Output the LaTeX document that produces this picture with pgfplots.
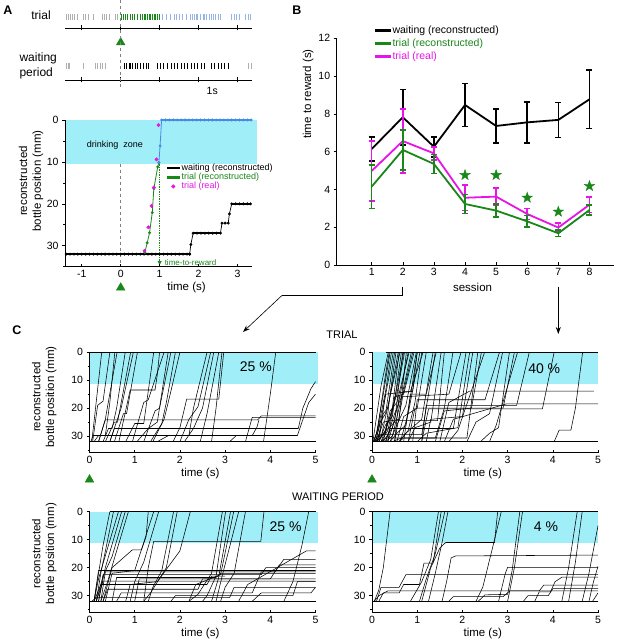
\documentclass[border=0pt]{standalone}
\usepackage{fontspec}
\setmainfont{Liberation Sans}
\usepackage{pgfplots}
\pgfplotsset{compat=1.18}
\usetikzlibrary{arrows.meta}

\definecolor{mygreen}{RGB}{25,135,25}
\definecolor{mymag}{RGB}{230,20,230}
\definecolor{zone}{RGB}{160,238,248}
\definecolor{myblue}{RGB}{70,140,230}
\definecolor{spkblue}{RGB}{150,180,230}
\definecolor{spkgray}{RGB}{175,175,175}

\newcommand\fs[1]{\fontsize{#1}{1.2\dimexpr#1pt\relax}\selectfont}

% filled five-point star
\pgfdeclareplotmark{fstar}{%
  \pgfpathmoveto{\pgfpointpolar{90}{\pgfplotmarksize}}%
  \pgfpathlineto{\pgfpointpolar{126}{0.4*\pgfplotmarksize}}%
  \pgfpathlineto{\pgfpointpolar{162}{\pgfplotmarksize}}%
  \pgfpathlineto{\pgfpointpolar{198}{0.4*\pgfplotmarksize}}%
  \pgfpathlineto{\pgfpointpolar{234}{\pgfplotmarksize}}%
  \pgfpathlineto{\pgfpointpolar{270}{0.4*\pgfplotmarksize}}%
  \pgfpathlineto{\pgfpointpolar{306}{\pgfplotmarksize}}%
  \pgfpathlineto{\pgfpointpolar{342}{0.4*\pgfplotmarksize}}%
  \pgfpathlineto{\pgfpointpolar{18}{\pgfplotmarksize}}%
  \pgfpathlineto{\pgfpointpolar{54}{0.4*\pgfplotmarksize}}%
  \pgfpathclose\pgfusepathqfillstroke}

\pgfplotsset{
  every axis/.append style={scale only axis,
    /pgf/number format/assume math mode=true,
    tick label style={font=\fs{10.5}}, label style={font=\fs{11.5}},
    axis line style={line width=0.6pt}, tick style={line width=0.6pt,black},
    major tick length=3pt, minor tick length=2pt},
  raster/.style={width=187pt, height=18pt, xmin=-1.43, xmax=3.37, ymin=0, ymax=1,
    axis x line*=bottom, hide y axis, xtick={-1,0,1,2,3}, xticklabels={},
    xtick align=center, major tick length=5pt, clip=false},
  spk/.style={only marks, mark=|, mark size=3pt, mark options={line width=0.7pt}, #1},
  pos/.style={y dir=reverse, ymin=0, axis x line*=bottom, axis y line*=left,
    ytick={0,10,20,30}, minor ytick={5,15,25,35}, ytick align=outside,
    xtick align=inside, clip=false, axis on top},
  cpan/.style={pos, width=226pt, height=100.5pt, xmin=0, xmax=5, ymax=36, xtick={0,...,5},
    xlabel={time (s)}, xlabel style={at={(axis description cs:0.49,-0.21)}, anchor=center}},
  cylab/.style={ylabel={reconstructed\\bottle position (mm)},
    ylabel style={align=center, at={(axis description cs:-0.2,#1)}, anchor=center}},
  tr/.style={black, line width=0.55pt},
  tri/.style={only marks, mark=triangle*, mark size=5pt, color=mygreen},
  dots/.style={mark=*, mark size=1.3pt, mark options={line width=0.3pt}},
}

\begin{document}
\begin{tikzpicture}[x=1pt,y=1pt]
\path[use as bounding box] (0,0) rectangle (618,640);

% ---------------- A: rasters
\begin{axis}[raster, at={(65pt,612pt)}, anchor=south west]
\addplot[spk=spkgray] coordinates {(-1.40,0.6)(-1.35,0.6)(-1.29,0.6)(-1.25,0.6)(-1.19,0.6)(-1.12,0.6)(-0.96,0.6)(-0.90,0.6)(-0.84,0.6)(-0.70,0.6)(-0.48,0.6)(-0.42,0.6)(-0.36,0.6)(-0.29,0.6)(-0.15,0.6)(-0.09,0.6)};
\addplot[spk=mygreen] coordinates {(0.02,0.6)(0.07,0.6)(0.12,0.6)(0.18,0.6)(0.24,0.6)(0.30,0.6)(0.36,0.6)(0.43,0.6)(0.50,0.6)(0.56,0.6)(0.60,0.6)(0.64,0.6)(0.69,0.6)(0.73,0.6)(0.77,0.6)(0.82,0.6)(0.86,0.6)(0.90,0.6)(0.94,0.6)(0.98,0.6)};
\addplot[spk=spkblue] coordinates {(1.07,0.6)(1.16,0.6)(1.27,0.6)(1.37,0.6)(1.44,0.6)(1.51,0.6)(1.59,0.6)(1.68,0.6)(1.78,0.6)(1.83,0.6)(1.88,0.6)(1.94,0.6)(1.98,0.6)(2.05,0.6)(2.11,0.6)(2.15,0.6)(2.21,0.6)(2.28,0.6)(2.33,0.6)(2.38,0.6)(2.44,0.6)(2.50,0.6)(2.56,0.6)(2.84,0.6)(2.91,0.6)(2.97,0.6)(3.04,0.6)(3.19,0.6)(3.27,0.6)(3.34,0.6)};
\addplot[tri] coordinates {(0,-0.8)};
\end{axis}

\begin{axis}[raster, at={(65pt,560pt)}, anchor=south west]
\addplot[spk=spkgray] coordinates {(-1.40,0.75)(-1.34,0.75)(-1.31,0.75)(-0.95,0.75)(-0.66,0.75)(-0.60,0.75)(-0.53,0.75)(-0.47,0.75)(-0.40,0.75)(3.27,0.75)(3.36,0.75)};
\addplot[spk=black] coordinates {(0.09,0.75)(0.15,0.75)(0.21,0.75)(0.26,0.75)(0.31,0.75)(0.37,0.75)(0.43,0.75)(0.50,0.75)(0.58,0.75)(0.65,0.75)(0.72,0.75)(0.95,0.75)(1.02,0.75)(1.09,0.75)(1.19,0.75)(1.29,0.75)(1.38,0.75)(1.46,0.75)(1.55,0.75)(1.64,0.75)(1.72,0.75)(1.81,0.75)(1.89,0.75)(1.98,0.75)(2.07,0.75)(2.15,0.75)(2.33,0.75)(2.41,0.75)(2.50,0.75)(2.58,0.75)(2.67,0.75)(2.76,0.75)};
\node[font=\fs{10.5}] at (axis cs:2.35,-0.6) {1s};
\end{axis}

\draw[gray, dashed, line width=0.5pt] (120.5,640) -- (120.5,552);
\node[font=\fs{12}] at (41,625) {trial};
\node[font=\fs{12}, align=left, anchor=west] at (16,574) {waiting\\period};
\node[font=\bfseries\fs{12.5}] at (8,630) {A};
\node[font=\bfseries\fs{12.5}] at (297,630) {B};
\node[font=\bfseries\fs{12.5}] at (17,310) {C};

% ---------------- A: reconstructed position
\begin{axis}[pos, at={(65pt,373.3pt)}, anchor=south west, width=187pt, height=146.7pt,
  xmin=-1.43, xmax=3.37, ymax=35, xtick={-1,0,1,2,3},
  xlabel={time (s)}, xlabel style={at={(axis description cs:0.65,-0.14)}, anchor=center},
  ylabel={reconstructed\\bottle position (mm)},
  ylabel style={align=center, at={(axis description cs:-0.182,0.584)}, anchor=center},
  legend style={at={(axis description cs:0.545,0.715)}, anchor=north west, draw=none, fill=none,
    font=\fs{9}, row sep=-2.8pt, inner sep=0pt},
  legend cell align=left]
\fill[zone] (axis cs:-1.43,0) rectangle (axis cs:3.5,10.4);
\node[font=\fs{9}] at (axis cs:-0.15,6) {drinking\ \ zone};
\draw[gray, dashed, line width=0.5pt] (axis cs:0,10.4) -- (axis cs:0,35);
\addplot[black, line width=1.8pt, dots, forget plot] coordinates {
(-1.40,32)(-1.30,32)(-1.20,32)(-1.10,32)(-1.00,32)(-0.90,32)(-0.80,32)(-0.70,32)(-0.60,32)(-0.50,32)
(-0.40,32)(-0.30,32)(-0.20,32)(-0.10,32)(0.00,32)(0.10,32)(0.20,32)(0.30,32)(0.40,32)(0.50,32)
(0.60,32)(0.70,32)(0.80,32)(0.90,32)(1.00,32)(1.10,32)(1.20,32)(1.30,32)(1.40,32)(1.50,32)
(1.60,32)(1.70,32)(1.77,32)};
\addplot[black, line width=0.7pt, dots, forget plot] coordinates {
(1.77,32)(1.80,29.7)(1.86,27.0)(1.96,27)(2.06,27)(2.16,27)(2.26,27)(2.36,27)(2.46,27)(2.56,27)
(2.60,24.6)(2.68,24.6)(2.76,24.6)(2.79,22.4)(2.85,20.0)(2.95,20)(3.05,20)(3.15,20)(3.25,20)(3.33,20)};
\addplot[black, line width=1.8pt, forget plot] coordinates {(1.86,27)(2.56,27)};
\addplot[black, line width=1.8pt, forget plot] coordinates {(2.85,20)(3.33,20)};
\addplot[mygreen, line width=0.8pt, dots, forget plot] coordinates {
(0.62,31.6)(0.68,29.3)(0.74,26.9)(0.81,22.1)(0.85,16.4)(0.95,11.2)(0.98,10.2)};
\addplot[myblue, line width=0.8pt, dots, forget plot] coordinates {
(0.98,10.2)(1.01,6.2)(1.05,0)(1.15,0)(1.25,0)(1.35,0)(1.45,0)(1.55,0)(1.65,0)(1.75,0)(1.85,0)
(1.95,0)(2.05,0)(2.15,0)(2.25,0)(2.35,0)(2.45,0)(2.55,0)(2.65,0)(2.75,0)(2.85,0)(2.95,0)
(3.05,0)(3.15,0)(3.25,0)(3.35,0)};
\addplot[myblue, line width=1.8pt, forget plot] coordinates {(1.05,0)(3.35,0)};
\addplot[only marks, mymag, mark=*, mark size=1.7pt, forget plot] coordinates {
(0.61,31.2)(0.71,25.6)(0.79,20.5)(0.85,16.1)(0.92,9.4)(0.97,1.2)};
\draw[mygreen, densely dotted, line width=0.7pt, -{Triangle[width=4pt,length=4pt]}]
  (axis cs:1,10.4) -- (axis cs:1,34.6);
\node[mygreen, font=\fs{8}, anchor=west] at (axis cs:1.04,34) {time-to-reward};
\addplot[tri, forget plot] coordinates {(0,40)};
\addlegendimage{legend image code/.code={\fill[black] (0pt,-0.6pt) rectangle (12pt,0.6pt);}}
\addlegendentry{waiting (reconstructed)}
\addlegendimage{legend image code/.code={\fill[mygreen] (0pt,-0.6pt) rectangle (12pt,0.6pt);}}
\addlegendentry{\textcolor{mygreen}{trial (reconstructed)}}
\addlegendimage{legend image code/.code={\fill[mymag] (6pt,0pt) circle (1.8pt);}}
\addlegendentry{\textcolor{mymag}{trial (real)}}
\end{axis}

% ---------------- B
\begin{axis}[at={(336.7pt,375pt)}, anchor=south west, width=277.3pt, height=226.7pt,
  xmin=-0.125, xmax=8.79, ymin=0, ymax=12, axis x line*=bottom, axis y line*=left,
  xtick={1,...,8}, ytick={0,2,...,12}, xtick align=inside, ytick align=outside,
  xlabel={session}, xlabel style={at={(axis description cs:0.49,-0.10)}, anchor=center},
  ylabel={time to reward (s)}, ylabel style={at={(axis description cs:-0.103,0.754)}, anchor=center},
  legend style={at={(axis description cs:0.138,1.065)}, anchor=north west, draw=none, fill=none,
    font=\fs{10.5}, row sep=0pt, inner sep=0pt},
  legend cell align=left,
  error bars/error bar style={line width=1.6pt},
  error bars/error mark options={rotate=90, mark size=3pt, line width=1.6pt}]
\addplot[black, line width=1.8pt, forget plot, error bars/.cd, y dir=both, y explicit] coordinates {
(1,6.14) +- (0,0.65) (2,7.82) +- (0,1.48) (3,6.26) +- (0,0.53) (4,8.47) +- (0,1.13)
(5,7.36) +- (0,0.89) (6,7.55) +- (0,1.09) (7,7.68) +- (0,0.93) (8,8.77) +- (0,1.55)};
\addplot[mymag, line width=1.8pt, forget plot, error bars/.cd, y dir=both, y explicit] coordinates {
(1,4.98) +- (0,1.58) (2,6.56) +- (0,1.70) (3,5.91) +- (0,0.35) (4,3.56) +- (0,0.67)
(5,3.62) +- (0,0.44) (6,2.70) +- (0,0.30) (7,1.98) +- (0,0.23) (8,3.19) +- (0,0.42)};
\addplot[mygreen, line width=1.8pt, forget plot, error bars/.cd, y dir=both, y explicit] coordinates {
(1,4.15) +- (0,1.15) (2,6.09) +- (0,1.06) (3,5.35) +- (0,0.50) (4,3.23) +- (0,0.50)
(5,2.88) +- (0,0.35) (6,2.31) +- (0,0.30) (7,1.68) +- (0,0.18) (8,2.91) +- (0,0.25)};
\addplot[only marks, mark=fstar, mark size=5.5pt, mygreen, forget plot] coordinates {
(4,4.76)(5,4.76)(6,3.56)(7,2.82)(8,4.18)};
\addlegendimage{legend image code/.code={\fill[black] (0pt,-0.9pt) rectangle (15pt,0.9pt);}}
\addlegendentry{waiting (reconstructed)}
\addlegendimage{legend image code/.code={\fill[mygreen] (0pt,-0.9pt) rectangle (15pt,0.9pt);}}
\addlegendentry{\textcolor{mygreen}{trial (reconstructed)}}
\addlegendimage{legend image code/.code={\fill[mymag] (0pt,-0.9pt) rectangle (15pt,0.9pt);}}
\addlegendentry{\textcolor{mymag}{trial (real)}}
\end{axis}

\draw[line width=0.6pt] (402.7,353.3) -- (402.7,344.3) -- (281.7,344.3);
\draw[line width=0.6pt, -{Stealth[length=7pt,width=5pt]}] (281.7,344.3) -- (243,308);
\draw[line width=0.6pt, -{Stealth[length=7pt,width=5pt]}] (558.3,353.3) -- (558.3,306);
\node[font=\fs{11}] at (342,305) {TRIAL};
\node[font=\fs{11}] at (338,143) {WAITING PERIOD};

% ---------------- C: trial, session 2
\begin{axis}[cpan, cylab=0.555, at={(89.5pt,187.2pt)}, anchor=south west]
\fill[zone] (axis cs:0,0) rectangle (axis cs:5.05,11.2);
\node[font=\fs{14}] at (axis cs:3.68,5.3) {25 \%};
\addplot[tr] coordinates {(0,32)(5,32)};
\addplot[tr] coordinates {(0,0)(5,0)};
\addplot[tr] coordinates {(0.05,32)(0.12,22)(0.27,0)};
\addplot[tr] coordinates {(0.07,32)(0.18,19)(0.3,17.5)(0.45,0)};
\addplot[tr] coordinates {(0.1,32)(0.2,29.8)(0.35,29.8)(0.45,18)(0.56,0)};
\addplot[tr] coordinates {(0.2,32)(0.35,24)(0.61,0)};
\addplot[tr] coordinates {(0.3,32)(0.42,27.3)(0.5,27.3)(0.6,20)(0.79,0)};
\addplot[tr] coordinates {(0.35,32)(0.55,25)(0.62,25)(0.91,0)};
\addplot[tr] coordinates {(0.45,32)(0.7,20)(0.97,0)};
\addplot[tr] coordinates {(0.55,32)(0.75,22)(0.82,22)(1.06,0)};
\addplot[tr] coordinates {(0.65,32)(0.9,13.5)(1.45,13.5)(1.5,8)(1.55,0)};
\addplot[tr] coordinates {(0.8,32)(1.0,25.5)(1.2,25.5)(1.42,0)};
\addplot[tr] coordinates {(0.95,32)(1.2,18)(1.3,17)(1.65,0)};
\addplot[tr] coordinates {(1.05,32)(1.3,27.3)(1.5,25)(1.74,0)};
\addplot[tr] coordinates {(1.2,32)(1.45,21)(1.55,20)(1.8,0)};
\addplot[tr] coordinates {(1.35,32)(1.6,25.5)(1.7,18)(1.9,0)};
\addplot[tr] coordinates {(1.4,32)(1.65,24)(1.8,14)(2.0,0)};
\addplot[tr] coordinates {(1.5,32)(1.75,29.8)(2.2,29.8)(2.3,20)(2.6,0)};
\addplot[tr] coordinates {(1.85,32)(2.0,27)(2.15,16.8)(2.86,16.8)(2.97,0)};
\addplot[tr] coordinates {(2.0,32)(2.2,24)(2.4,19.5)(2.68,0)};
\addplot[tr] coordinates {(2.1,32)(2.3,27.3)(2.5,20)(2.75,0)};
\addplot[tr] coordinates {(2.45,32)(2.6,22)(2.86,0)};
\addplot[tr] coordinates {(2.7,32)(2.8,20)(2.93,0)};
\addplot[tr] coordinates {(3.85,32)(4.0,15)(4.12,0)};
\addplot[tr] coordinates {(0.2,32)(0.35,24.2)(3.72,24.2)(3.8,22.8)(5,22.8)};
\addplot[tr] coordinates {(0.03,32)(0.08,29.8)(3.6,29.8)(3.7,27)(3.75,24.2)};
\addplot[tr] coordinates {(0.45,32)(0.55,27.3)(4.62,27.3)(4.72,20)(4.9,13)(5,10.5)};
\addplot[tr] coordinates {(3.1,32)(3.25,29.8)(4.6,29.8)(4.68,26)(4.85,18)(5,15)};
\addplot[tr] coordinates {(3.45,32)(3.6,23.3)(5,23.3)};
\addplot[tri, forget plot] coordinates {(0,45.6)};
\end{axis}

% ---------------- C: trial, session 7
\begin{axis}[cpan, at={(372pt,187.2pt)}, anchor=south west]
\fill[zone] (axis cs:0,0) rectangle (axis cs:5,11.2);
\node[font=\fs{14}] at (axis cs:3.81,6) {40 \%};
\addplot[tr] coordinates {(0,32)(5,32)};
\addplot[tr] coordinates {(0.3,0)(5,0)};
\addplot[tr] coordinates {(0.02,32)(0.2,12)(0.36,0)};
\addplot[tr] coordinates {(0.03,32)(0.12,28)(0.28,10)(0.38,0)};
\addplot[tr] coordinates {(0.03,32)(0.1,29)(0.25,15)(0.40,0)};
\addplot[tr] coordinates {(0.05,32)(0.15,26)(0.3,14)(0.43,0)};
\addplot[tr] coordinates {(0.08,32)(0.2,24)(0.35,11)(0.47,0)};
\addplot[tr] coordinates {(0.08,32)(0.18,25)(0.3,22)(0.5,0)};
\addplot[tr] coordinates {(0.1,32)(0.15,30)(0.3,29)(0.4,15)(0.53,0)};
\addplot[tr] coordinates {(0.12,32)(0.25,22)(0.35,20)(0.58,0)};
\addplot[tr] coordinates {(0.1,32)(0.3,28.5)(0.45,20)(0.6,0)};
\addplot[tr] coordinates {(0.05,32)(0.2,30.5)(0.45,12)(0.62,0)};
\addplot[tr] coordinates {(0.15,32)(0.3,26)(0.45,23)(0.65,0)};
\addplot[tr] coordinates {(0.15,32)(0.25,29)(0.5,25)(0.68,0)};
\addplot[tr] coordinates {(0.2,32)(0.35,28)(0.5,17)(0.70,0)};
\addplot[tr] coordinates {(0.2,32)(0.4,23)(0.55,15)(0.72,0)};
\addplot[tr] coordinates {(0.1,32)(0.25,25)(0.6,24)(0.76,0)};
\addplot[tr] coordinates {(0.25,32)(0.45,27)(0.6,17)(0.8,0)};
\addplot[tr] coordinates {(0.25,32)(0.4,21)(0.55,18)(0.82,0)};
\addplot[tr] coordinates {(0.3,32)(0.45,30)(0.6,20)(0.87,0)};
\addplot[tr] coordinates {(0.3,32)(0.5,22)(0.7,14)(0.9,0)};
\addplot[tr] coordinates {(0.35,32)(0.5,16)(0.7,15)(0.93,0)};
\addplot[tr] coordinates {(0.4,32)(0.55,26)(0.75,19)(0.98,0)};
\addplot[tr] coordinates {(0.4,32)(0.55,29)(0.75,26)(0.85,16)(1.0,0)};
\addplot[tr] coordinates {(0.15,32)(0.3,15)(0.9,14)(1.0,0)};
\addplot[tr] coordinates {(0.45,32)(0.65,30.7)(0.8,22)(1.06,0)};
\addplot[tr] coordinates {(0.6,32)(0.8,28)(0.95,18)(1.1,0)};
\addplot[tr] coordinates {(0.5,32)(0.7,14)(0.85,14)(1.13,0)};
\addplot[tr] coordinates {(0.55,32)(0.7,23)(1.0,20)(1.20,0)};
\addplot[tr] coordinates {(0.6,32)(0.75,29)(1.1,24)(1.35,0)};
\addplot[tr] coordinates {(0.05,32)(0.15,29.5)(1.1,29.5)(1.25,15)(1.4,0)};
\addplot[tr] coordinates {(0.7,32)(0.85,15)(1.2,15)(1.42,0)};
\addplot[tr] coordinates {(0.8,32)(0.95,27)(1.3,25)(1.53,0)};
\addplot[tr] coordinates {(0.35,32)(0.5,24.5)(1.45,24.5)(1.6,0)};
\addplot[tr] coordinates {(0.2,32)(0.3,30.7)(1.4,30.7)(1.6,20)(1.79,0)};
\addplot[tr] coordinates {(0.5,32)(0.6,16)(1.7,15)(1.97,0)};
\addplot[tr] coordinates {(0.3,32)(0.4,27.3)(1.8,27.3)(2.08,0)};
\addplot[tr] coordinates {(1.0,32)(1.2,29)(1.9,27)(2.16,0)};
\addplot[tr] coordinates {(1.2,32)(1.3,24)(2.0,23)(2.23,0)};
\addplot[tr] coordinates {(0.6,32)(0.7,30.7)(2.1,30.7)(2.34,0)};
\addplot[tr] coordinates {(1.4,32)(1.6,21)(2.2,20)(2.42,0)};
\addplot[tr] coordinates {(1.7,32)(1.9,28)(2.49,0)};
\addplot[tr] coordinates {(0.9,32)(1.0,17)(2.5,17)(2.82,0)};
\addplot[tr] coordinates {(2.1,32)(2.3,25)(2.6,22)(2.89,0)};
\addplot[tr] coordinates {(2.4,32)(2.6,29)(2.8,27)(3.04,0)};
\addplot[tr] coordinates {(0.8,32)(0.95,20)(2.9,20)(3.15,0)};
\addplot[tr] coordinates {(2.6,32)(2.75,26)(3.22,0)};
\addplot[tr] coordinates {(1.1,32)(1.2,19)(3.2,19)(3.48,0)};
\addplot[tr] coordinates {(1.1,32)(1.25,20.3)(3.77,20.3)(4.03,0)};
\addplot[tr] coordinates {(4.03,32)(4.14,27.9)(4.4,27.9)(4.5,20)(4.66,0)};
\addplot[tr] coordinates {(1.5,32)(1.7,18)(2.16,13.9)(4.91,13.9)};
\addplot[tr] coordinates {(1.6,32)(1.8,24)(2.97,18.5)(5.0,18.5)};
\addplot[tri, forget plot] coordinates {(0,45.6)};
\end{axis}

% ---------------- C: waiting, session 2
\begin{axis}[cpan, cylab=0.585, at={(89.5pt,27.5pt)}, anchor=south west, height=100.8pt]
\fill[zone] (axis cs:0,0) rectangle (axis cs:5.05,11);
\node[font=\fs{14}] at (axis cs:4.34,5.4) {25 \%};
\addplot[tr] coordinates {(0,32)(5,32)};
\addplot[tr] coordinates {(0.45,0)(5,0)};
\addplot[tr] coordinates {(0.1,32)(0.3,12)(0.45,0)};
\addplot[tr] coordinates {(0.15,32)(0.25,22)(0.53,0)};
\addplot[tr] coordinates {(0.1,32)(0.2,24)(0.4,13)(0.64,0)};
\addplot[tr] coordinates {(0.2,32)(0.35,20)(0.71,0)};
\addplot[tr] coordinates {(0.15,32)(0.3,23)(0.5,16)(0.79,0)};
\addplot[tr] coordinates {(0.25,32)(0.4,25)(0.6,14)(0.86,0)};
\addplot[tr] coordinates {(0.3,32)(0.5,20)(0.95,13.6)(1.15,13.6)(1.25,9)(1.3,0)};
\addplot[tr] coordinates {(0.35,32)(0.5,22)(1.0,21)(1.42,0)};
\addplot[tr] coordinates {(0.9,32)(1.0,25)(1.2,18)(1.53,0)};
\addplot[tr] coordinates {(1.3,32)(1.4,27)(1.6,21)(1.86,0)};
\addplot[tr] coordinates {(1.2,32)(1.35,29)(1.7,20)(1.94,0)};
\addplot[tr] coordinates {(0.8,32)(0.9,26)(1.5,25)(2.0,14)(2.23,0)};
\addplot[tr] coordinates {(2.2,32)(2.4,29.5)(2.7,22)(2.94,0)};
\addplot[tr] coordinates {(2.5,32)(2.6,30)(2.8,23)(3.01,0)};
\addplot[tr] coordinates {(2.7,32)(2.85,24)(3.12,0)};
\addplot[tr] coordinates {(2.2,32)(2.35,26)(2.9,22.5)(3.19,0)};
\addplot[tr] coordinates {(2.8,32)(2.95,22)(3.3,0)};
\addplot[tr] coordinates {(2.9,32)(3.0,27)(3.2,22)(3.45,0)};
\addplot[tr] coordinates {(1.2,32)(1.3,20)(1.42,10.6)(3.79,10.6)(3.86,0)};
\addplot[tr] coordinates {(4.3,32)(4.5,25)(4.7,12)(4.85,0)};
\addplot[tr] coordinates {(0.1,32)(0.2,21)(5,21)};
\addplot[tr] coordinates {(0.2,32)(0.3,22.5)(3.8,22.5)(3.9,20)(5,20)};
\addplot[tr] coordinates {(0.15,32)(0.3,24.8)(5,24.8)};
\addplot[tr] coordinates {(0.3,32)(0.4,27.7)(2.4,27.7)(2.5,24)(5,24)};
\addplot[tr] coordinates {(0.05,32)(0.15,30.7)(3.1,30.7)(3.2,27)(5,27)};
\addplot[tr] coordinates {(0.5,32)(0.6,23.5)(2.8,23.5)(2.9,22)(5,22)};
\addplot[tr] coordinates {(0.6,32)(0.7,29)(3.6,29)(3.8,21.5)(5,21.5)};
\addplot[tr] coordinates {(1.0,32)(1.1,24)(4.0,24)(4.2,19)(5,19)};
\addplot[tr] coordinates {(0.25,32)(0.35,21.5)(4.1,21.5)(4.3,17)(5,17)};
\addplot[tr] coordinates {(0.1,32)(0.25,26)(2.6,26)(2.7,23)(3.0,23)};
\addplot[tr] coordinates {(1.8,32)(1.9,30)(4.5,30)(4.6,25)(5,25)};
\addplot[tr] coordinates {(3.3,32)(3.5,26)(4.8,14)(5,14)};
\addplot[tr] coordinates {(3.6,32)(3.8,29)(4.9,29)(5,27)};
\end{axis}

% ---------------- C: waiting, session 7
\begin{axis}[cpan, at={(372pt,27.5pt)}, anchor=south west, height=100.8pt]
\fill[zone] (axis cs:0,0) rectangle (axis cs:5,11);
\node[font=\fs{14}] at (axis cs:3.85,5.4) {4 \%};
\addplot[tr] coordinates {(0,32)(5,32)};
\addplot[tr] coordinates {(0,0)(5,0)};
\addplot[tr] coordinates {(0.05,32)(0.15,28)(0.25,20)(0.4,0)};
\addplot[tr] coordinates {(0.1,32)(0.2,27)(0.6,27)(0.75,22.5)(5,22.5)};
\addplot[tr] coordinates {(0.15,32)(0.25,29)(0.6,29)(0.7,26)(1.05,26)(1.15,18.4)(1.35,18.4)(1.53,0)};
\addplot[tr] coordinates {(0.05,32)(0.15,30)(0.35,28.3)(3.7,28.3)(3.8,26.2)(5,26.2)};
\addplot[tr] coordinates {(0.85,32)(1.1,25)(1.3,17)(1.47,0)};
\addplot[tr] coordinates {(1.05,32)(1.2,24)(1.4,15)(1.61,0)};
\addplot[tr] coordinates {(1.25,32)(1.4,22)(1.55,11)(1.68,0)};
\addplot[tr] coordinates {(1.1,32)(1.3,20)(1.5,13)(1.63,11)(2.71,11)(2.78,0)};
\addplot[tr] coordinates {(1.55,32)(1.65,25)(1.75,16.5)(1.85,15.8)(5,15.5)};
\addplot[tr] coordinates {(1.7,32)(1.8,30.3)(2.9,30.3)(3.05,28.3)(5,28.3)};
\addplot[tr] coordinates {(2.3,32)(2.45,27)(2.65,14)(2.86,0)};
\addplot[tr] coordinates {(2.35,32)(2.5,29.7)(3.0,29.5)(3.1,21)(3.27,0)};
\addplot[tr] coordinates {(3.0,32)(3.15,20)(3.33,0)};
\addplot[tr] coordinates {(2.8,32)(2.95,22)(3.0,19.9)(5,19.9)};
\addplot[tr] coordinates {(3.35,32)(3.45,30)(3.9,30)(4.0,27.5)(5,27.5)};
\addplot[tr] coordinates {(3.6,32)(3.7,28.6)(3.95,28.6)(4.05,25)(4.2,23.4)(5,23.4)};
\addplot[tr] coordinates {(4.2,32)(4.35,20)(4.54,0)};
\addplot[tr] coordinates {(4.35,32)(4.5,18)(4.65,0)};
\addplot[tr] coordinates {(4.65,32)(4.8,22)(5,5)};
\addplot[tr] coordinates {(4.8,32)(4.9,25)(5,19.5)};
\addplot[tr] coordinates {(4.88,32)(5,29)};
\end{axis}
\end{tikzpicture}
\end{document}
